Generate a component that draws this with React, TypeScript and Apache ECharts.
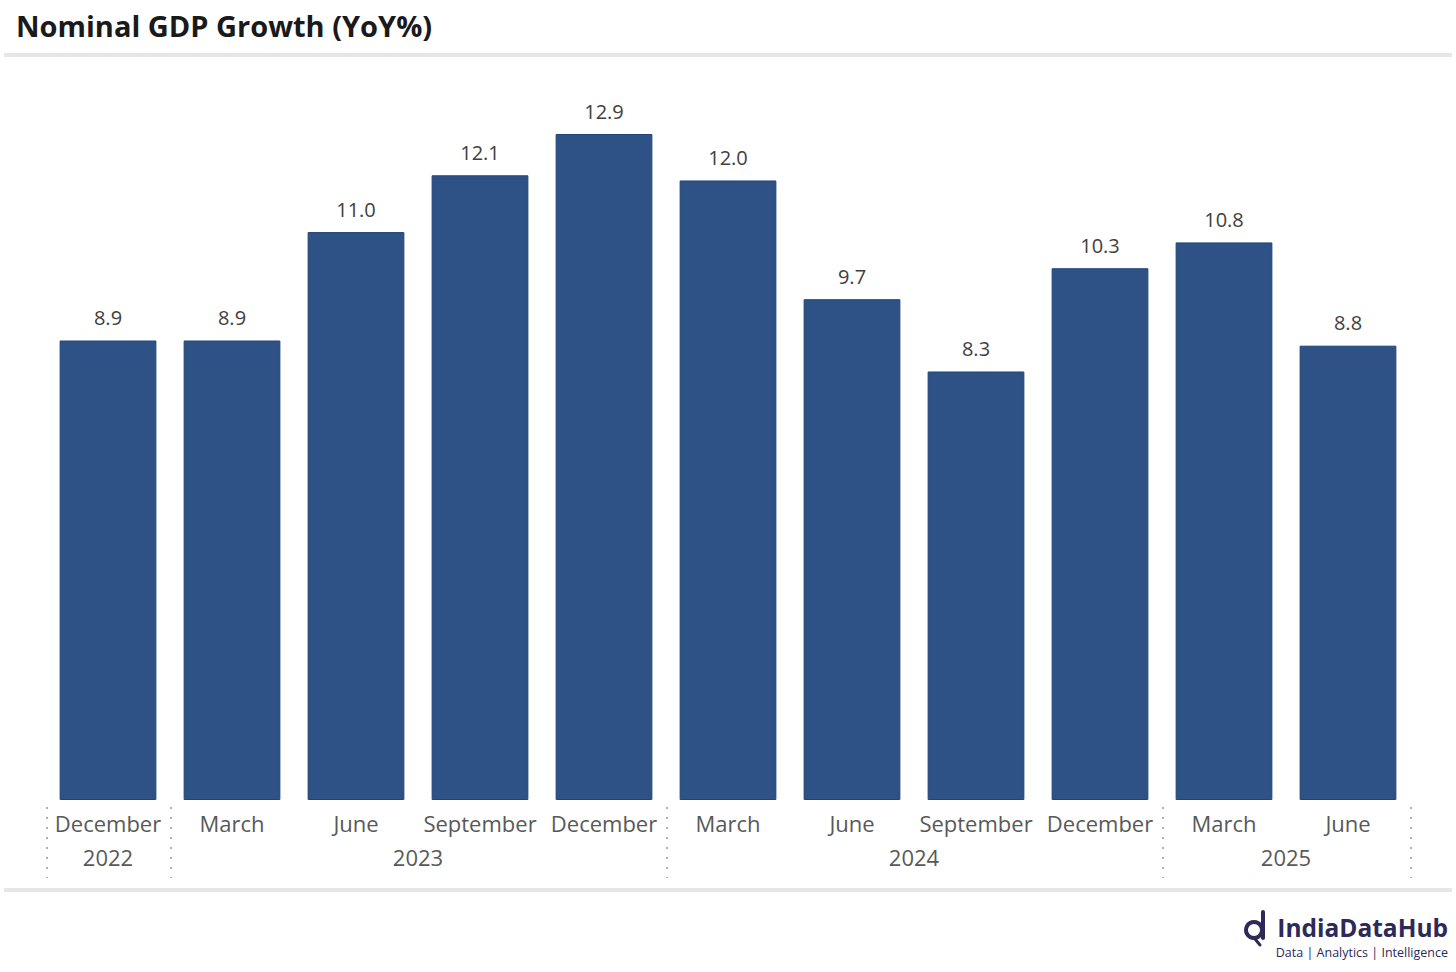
import React, { useEffect, useRef } from "react";
import * as echarts from "echarts";

const months = ["December", "March", "June", "September", "December", "March", "June", "September", "December", "March", "June"];
const values = [8.9, 8.9, 11.0, 12.1, 12.9, 12.0, 9.7, 8.3, 10.3, 10.8, 8.8];
const yearLabels = ["2022", "2023", "2024", "2025"];
// index ranges (first, last) of each year group
const yearStart = [0, 1, 5, 9];
const yearEnd = [0, 4, 8, 10];

const FONT = "'Open Sans', 'Noto Sans', sans-serif";

export default function App() {
  const ref = useRef<HTMLDivElement>(null);
  useEffect(() => {
    if (!ref.current) return;
    const chart = echarts.init(ref.current, null, { renderer: "svg" });
    const option: any = {
      animation: false,
      backgroundColor: "#ffffff",
      textStyle: { fontFamily: FONT },
      grid: { left: 46, right: 46, top: 134, height: 666 },
      xAxis: {
        type: "category",
        data: months,
        axisLine: { show: false },
        axisTick: { show: false },
        axisLabel: { color: "#595959", fontSize: 22, margin: 12, fontFamily: FONT, interval: 0 },
      },
      yAxis: { type: "value", min: 0, max: 12.9, show: false, splitLine: { show: false } },
      series: [
        {
          type: "bar",
          data: values,
          barWidth: "78%",
          itemStyle: { color: "#2E5286", borderColor: "#1F4478", borderWidth: 1 },
          label: {
            show: true,
            position: "top",
            distance: 13,
            color: "#404040",
            fontSize: 20,
            fontFamily: FONT,
            formatter: (p: any) => p.value.toFixed(1),
          },
        },
      ],
    };
    chart.setOption(option);

    const px = (i: number) => chart.convertToPixel({ xAxisIndex: 0 }, i) as number;
    const step = px(1) - px(0);
    const graphics: any[] = [];
    // title
    graphics.push({
      type: "text",
      left: 16,
      top: 11,
      style: { text: "Nominal GDP Growth (YoY%)", fontSize: 29, fontWeight: "bold", fill: "#1a1a1a", fontFamily: FONT },
    });
    // separator bands
    graphics.push({ type: "rect", shape: { x: 4, y: 53, width: 1448, height: 4 }, style: { fill: "#e6e6e6" } });
    graphics.push({ type: "rect", shape: { x: 4, y: 888, width: 1448, height: 4 }, style: { fill: "#e6e6e6" } });
    // year labels and dotted separators
    const bounds = new Set<number>();
    yearLabels.forEach((y, k) => {
      const x0 = px(yearStart[k]) - step / 2;
      const x1 = px(yearEnd[k]) + step / 2;
      bounds.add(Math.round(x0));
      bounds.add(Math.round(x1));
      graphics.push({
        type: "text",
        x: (x0 + x1) / 2,
        y: 857,
        style: { text: y, fontSize: 22, fill: "#595959", fontFamily: FONT, textAlign: "center", textVerticalAlign: "middle" },
      });
    });
    bounds.forEach((x) => {
      graphics.push({
        type: "line",
        shape: { x1: x + 1, y1: 807, x2: x + 1, y2: 878 },
        style: { stroke: "#b0b0b0", lineWidth: 2, lineDash: [2, 8] },
      });
    });
    // logo
    graphics.push({ type: "ring", shape: { cx: 1254, cy: 930, r: 10, r0: 6 }, style: { fill: "#2d2a5a" } });
    graphics.push({ type: "rect", shape: { x: 1261, y: 910, width: 4, height: 30, r: 2 }, style: { fill: "#2d2a5a" } });
    graphics.push({ type: "line", shape: { x1: 1255, y1: 939, x2: 1260, y2: 945 }, style: { stroke: "#2d2a5a", lineWidth: 3, lineCap: "round" } });
    graphics.push({
      type: "text",
      x: 1448,
      y: 927,
      style: { text: "IndiaDataHub", fontSize: 24.5, fontWeight: "bold", fill: "#2d2a5a", fontFamily: FONT, textAlign: "right", textVerticalAlign: "middle" },
    });
    graphics.push({
      type: "text",
      x: 1448,
      y: 952,
      style: { text: "Data | Analytics | Intelligence", fontSize: 12.5, fill: "#2d2a5a", fontFamily: FONT, textAlign: "right", textVerticalAlign: "middle" },
    });
    chart.setOption({ graphic: graphics });
    return () => chart.dispose();
  }, []);
  return <div ref={ref} style={{ position: "fixed", left: 0, top: 0, width: 1456, height: 972 }} />;
}
